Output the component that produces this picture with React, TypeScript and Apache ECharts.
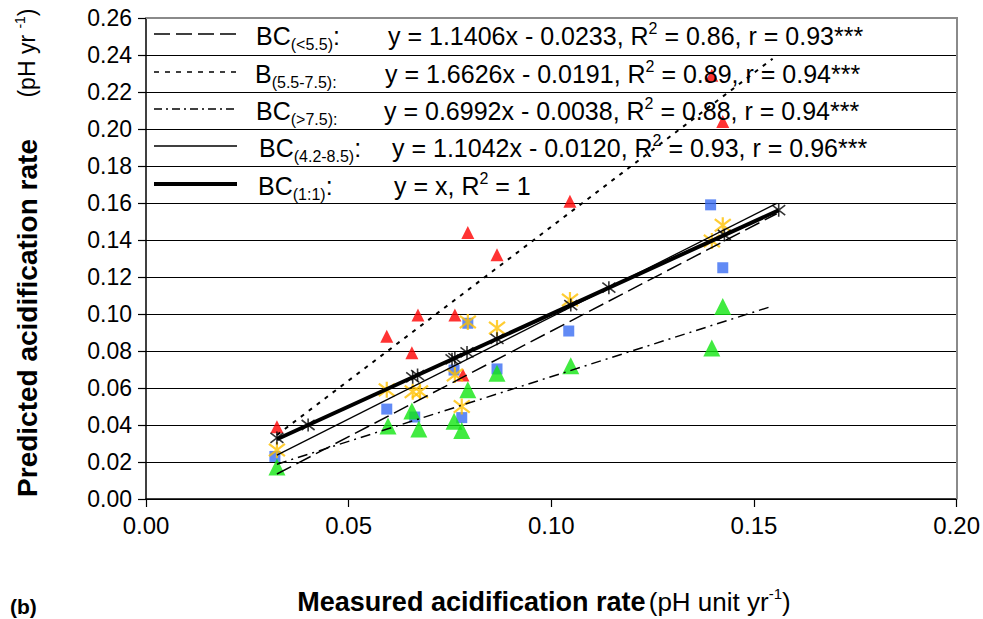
import React, { useEffect, useRef } from 'react';
import * as echarts from 'echarts';

// Measured (x) vs predicted (y) acidification rates, pH yr-1
const bcLowPts: [number, number][] = [
  [0.0318, 0.023], [0.0594, 0.0486], [0.0663, 0.0443], [0.076, 0.0697], [0.0779, 0.044],
  [0.0794, 0.095], [0.0866, 0.0703], [0.1043, 0.0908], [0.1393, 0.159], [0.1423, 0.125],
];
const bMidPts: [number, number][] = [
  [0.0323, 0.039], [0.0594, 0.088], [0.0656, 0.079], [0.0671, 0.0995], [0.0762, 0.0995],
  [0.0782, 0.067], [0.0794, 0.144], [0.0866, 0.132], [0.1046, 0.161], [0.1396, 0.229], [0.1423, 0.204],
];
const bcHighPts: [number, number][] = [
  [0.0323, 0.0173], [0.0597, 0.0395], [0.0656, 0.0476], [0.0673, 0.0378], [0.076, 0.042],
  [0.0779, 0.037], [0.0794, 0.059], [0.0866, 0.068], [0.1048, 0.072], [0.1396, 0.0816], [0.1423, 0.104],
];
const bcAllPts: [number, number][] = [
  [0.0323, 0.0265], [0.0594, 0.059], [0.0658, 0.058], [0.0676, 0.058], [0.0762, 0.067],
  [0.0779, 0.05], [0.0794, 0.0957], [0.0866, 0.0924], [0.1046, 0.1076], [0.1396, 0.1395], [0.1423, 0.148],
];
const oneToOnePts: [number, number][] = [
  [0.0323, 0.033], [0.04, 0.04], [0.0658, 0.0658], [0.067, 0.067], [0.0755, 0.0755], [0.0762, 0.0762],
  [0.0792, 0.0792], [0.0866, 0.0866], [0.1048, 0.1048], [0.1142, 0.1142], [0.1427, 0.1427], [0.1561, 0.1561],
];

// Fitted trend lines (end points)
const fitLow: [number, number][] = [[0.0323, 0.0135], [0.1556, 0.1542]];
const fitMid: [number, number][] = [[0.0323, 0.0346], [0.1546, 0.238]];
const fitHigh: [number, number][] = [[0.0323, 0.0188], [0.1546, 0.1043]];
const fitAll: [number, number][] = [[0.0323, 0.0237], [0.1556, 0.1598]];
const fitOne: [number, number][] = [[0.0323, 0.0323], [0.1561, 0.1561]];

// Legend texts
const legendNames = ['BC', 'B', 'BC', 'BC', 'BC'];
const legendSubs = ['(<5.5)', '(5.5-7.5):', '(>7.5):', '(4.2-8.5)', '(1:1)'];
const legendColons = [':', '', '', ':', ':'];
const legendEqA = [
  'y = 1.1406x - 0.0233, R',
  'y = 1.6626x - 0.0191, R',
  'y = 0.6992x - 0.0038, R',
  'y = 1.1042x - 0.0120, R',
  'y = x, R',
];
const legendEqB = [
  ' = 0.86, r = 0.93***',
  ' = 0.89, r = 0.94***',
  ' = 0.88, r = 0.94***',
  ' = 0.93, r = 0.96***',
  ' = 1',
];

const FF = '"Liberation Sans", Arial, sans-serif';
const STAR = 'path://M0,0L10,10M10,0L0,10M5,-1.5L5,11.5';

export default function App() {
  const ref = useRef<HTMLDivElement>(null);
  useEffect(() => {
    if (!ref.current) return;
    const chart = echarts.init(ref.current, null, { renderer: 'svg' });

    const left = 146, right = 957, top = 18, bottom = 499;

    const legendRowsY = [34, 72, 109, 146, 184];
    const legendTextX = [256, 255, 256, 259, 258];
    const legendEqX = [388, 385, 384, 392, 394];
    const dashes: (number[] | null)[] = [[16, 6], [5, 6], [8, 4, 2, 4], null, null];
    const widths = [1.5, 1.5, 1.3, 1.3, 4];

    const rich = {
      m: { fontFamily: FF, fontSize: 25, lineHeight: 32, color: '#000' },
      s: { fontFamily: FF, fontSize: 16, lineHeight: 16, verticalAlign: 'bottom', color: '#000' },
      p: { fontFamily: FF, fontSize: 16, lineHeight: 16, verticalAlign: 'top', color: '#000' },
    };

    const graphics: any[] = [];
    for (let i = 0; i < 5; i++) {
      const y = legendRowsY[i];
      graphics.push({
        type: 'line',
        shape: { x1: 154, y1: y, x2: 237, y2: y },
        style: { stroke: '#000', lineWidth: widths[i], lineDash: dashes[i] || undefined },
        z: 100,
      });
      graphics.push({
        type: 'text',
        x: legendTextX[i],
        y: y + 2,
        style: {
          text: `{m|${legendNames[i]}}{s|${legendSubs[i]}}${legendColons[i] ? `{m|${legendColons[i]}}` : ''}`,
          rich,
          verticalAlign: 'middle',
          align: 'left',
          fill: '#000',
        },
        z: 100,
      });
      graphics.push({
        type: 'text',
        x: legendEqX[i],
        y: y + 2,
        style: {
          text: `{m|${legendEqA[i]}}{p|2}{m|${legendEqB[i]}}`,
          rich,
          verticalAlign: 'middle',
          align: 'left',
          fill: '#000',
        },
        z: 100,
      });
    }
    // plot frame (top/right in grey)
    graphics.push({
      type: 'polyline',
      shape: { points: [[left, top], [right, top], [right, bottom]] },
      style: { stroke: '#8a8a8a', lineWidth: 2, fill: 'none' },
      z: 90,
    });
    // y axis title
    graphics.push({
      type: 'text',
      x: 27,
      y: 318,
      rotation: Math.PI / 2,
      style: {
        text: 'Predicted acidification rate',
        font: `bold 28px ${FF}`,
        fill: '#000',
        align: 'center',
        verticalAlign: 'middle',
      },
    });
    graphics.push({
      type: 'text',
      x: 27,
      y: 53,
      rotation: Math.PI / 2,
      style: {
        text: '{n|(pH yr }{p|-1}{n|)}',
        rich: {
          n: { fontFamily: FF, fontSize: 23, lineHeight: 28 },
          p: { fontFamily: FF, fontSize: 14, lineHeight: 14, verticalAlign: 'top' },
        },
        fill: '#000',
        align: 'center',
        verticalAlign: 'middle',
      },
    });
    // x axis title
    graphics.push({
      type: 'text',
      x: 544,
      y: 602,
      style: {
        text: '{b|Measured acidification rate} {n|(pH unit yr}{p|-1}{n|)}',
        rich: {
          b: { fontFamily: FF, fontSize: 27, fontWeight: 'bold', lineHeight: 32 },
          n: { fontFamily: FF, fontSize: 26, lineHeight: 32 },
          p: { fontFamily: FF, fontSize: 15, lineHeight: 15, verticalAlign: 'top' },
        },
        fill: '#000',
        align: 'center',
        verticalAlign: 'middle',
      },
    });
    // panel label
    graphics.push({
      type: 'text',
      x: 10,
      y: 596,
      style: { text: '(b)', font: `bold 21px ${FF}`, fill: '#000', align: 'left', verticalAlign: 'top' },
    });

    const scatter = (name: string, data: [number, number][], symbol: string, size: number, style: any) => ({
      name,
      type: 'scatter',
      data,
      symbol,
      symbolSize: size,
      itemStyle: style,
      z: 3,
    });
    const fit = (name: string, data: [number, number][], type: any, width: number) => ({
      name,
      type: 'line',
      data,
      symbol: 'none',
      lineStyle: { color: '#000', width, type },
      z: 4,
    });

    chart.setOption({
      animation: false,
      backgroundColor: '#fff',
      grid: { left, top, width: right - left, height: bottom - top },
      xAxis: {
        type: 'value',
        min: 0,
        max: 0.2,
        interval: 0.05,
        axisLine: { show: true, lineStyle: { color: '#000', width: 1.5 } },
        axisTick: { show: true, inside: false, length: 8, lineStyle: { color: '#000', width: 1.2 } },
        axisLabel: {
          formatter: (v: number) => v.toFixed(2),
          fontFamily: FF,
          fontSize: 24,
          color: '#000',
          margin: 14,
          showMaxLabel: true,
        },
        splitLine: { show: false },
      },
      yAxis: {
        type: 'value',
        min: 0,
        max: 0.26,
        interval: 0.02,
        axisLine: { show: true, lineStyle: { color: '#000', width: 1.5 } },
        axisTick: { show: true, inside: false, length: 8, lineStyle: { color: '#000', width: 1.2 } },
        axisLabel: {
          formatter: (v: number) => v.toFixed(2),
          fontFamily: FF,
          fontSize: 23,
          color: '#000',
          margin: 14,
        },
        splitLine: { show: true, lineStyle: { color: '#000', width: 1 } },
      },
      series: [
        scatter('BC(<5.5)', bcLowPts, 'rect', 11, { color: '#3a6df2' }),
        scatter('B(5.5-7.5)', bMidPts, 'triangle', 13, { color: '#ff0000' }),
        scatter('BC(>7.5)', bcHighPts, 'triangle', 17, { color: '#11e611' }),
        scatter('BC(4.2-8.5)', bcAllPts, STAR, 16, { color: 'none', borderColor: '#ffc000', borderWidth: 2.2 }),
        scatter('BC(1:1)', oneToOnePts, STAR, 13, { color: 'none', borderColor: '#000', borderWidth: 1.6 }),
        fit('fit <5.5', fitLow, [16, 6], 1.5),
        fit('fit 5.5-7.5', fitMid, [4, 6], 2),
        fit('fit >7.5', fitHigh, [10, 5, 2, 5], 1.5),
        fit('fit 4.2-8.5', fitAll, 'solid', 1.3),
        fit('fit 1:1', fitOne, 'solid', 4),
      ],
      graphic: graphics,
    });
    return () => chart.dispose();
  }, []);
  return (
    <div
      ref={ref}
      style={{ position: 'fixed', left: 0, top: 0, width: 983, height: 619, background: '#fff' }}
    />
  );
}
